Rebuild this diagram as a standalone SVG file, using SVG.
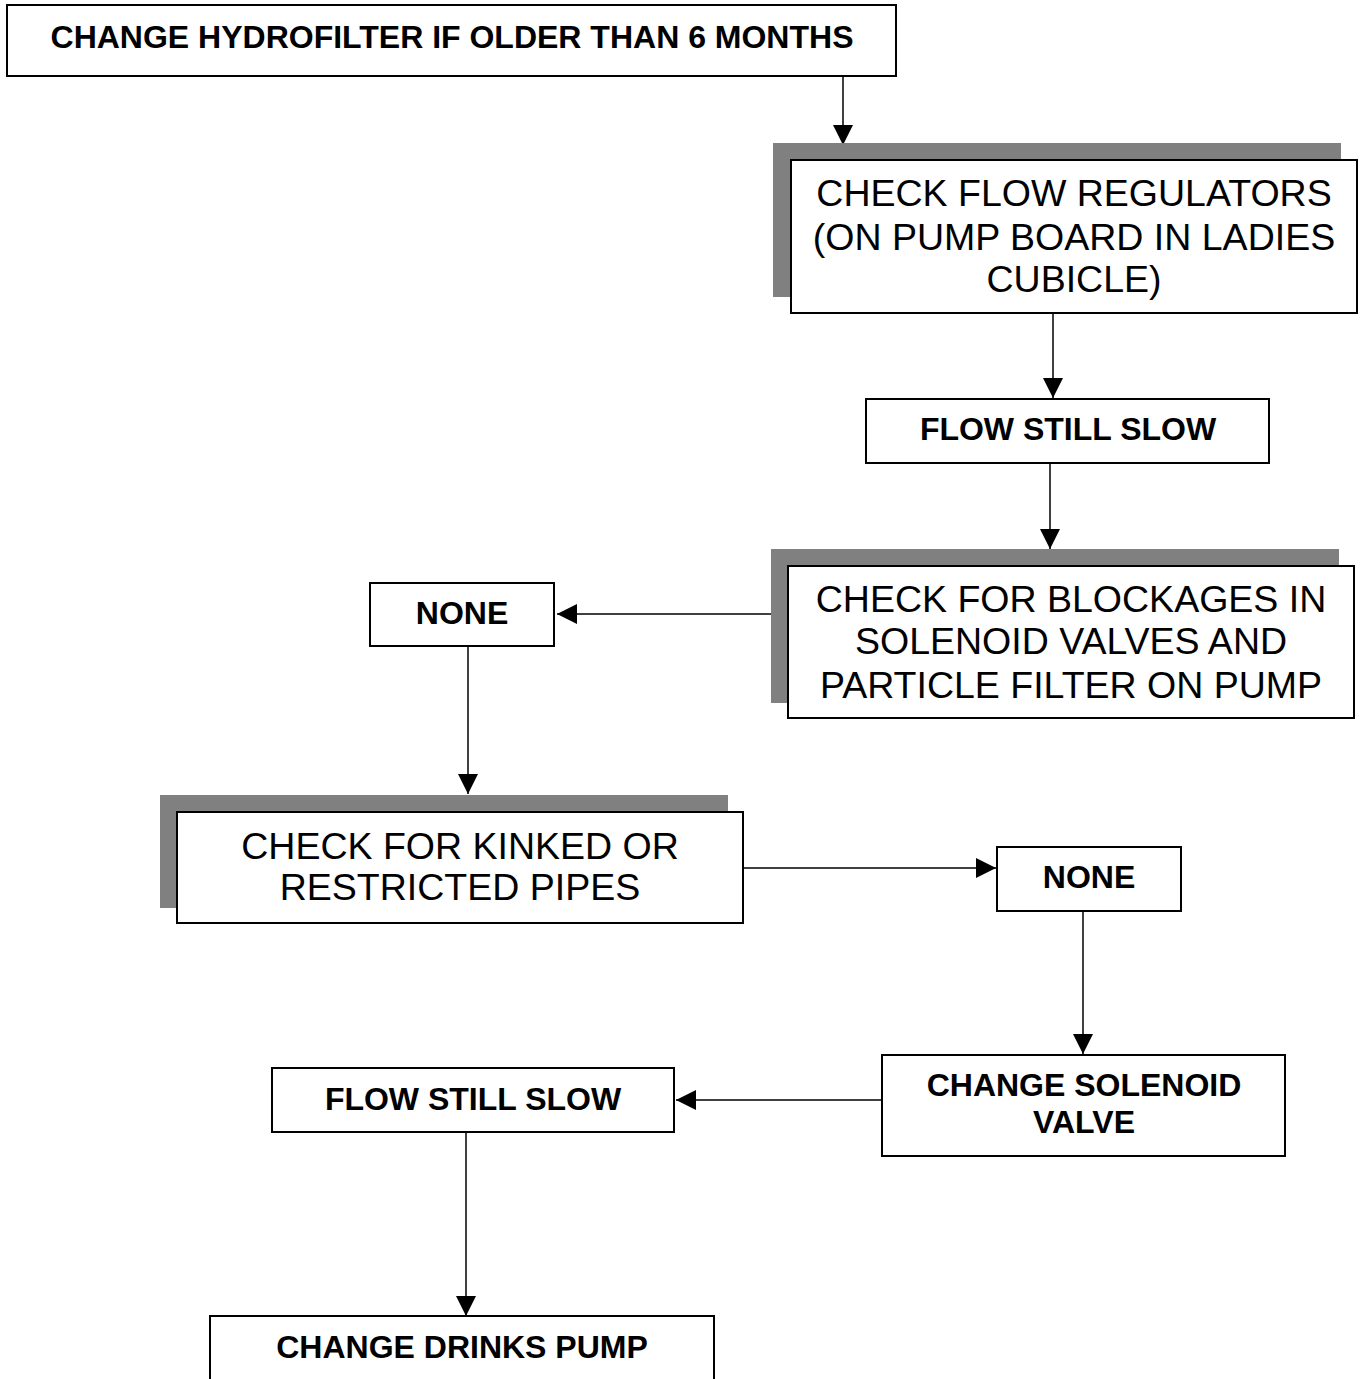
<svg xmlns="http://www.w3.org/2000/svg" width="1367" height="1379" viewBox="0 0 1367 1379">
<style>
.box{fill:#fff;stroke:#000;stroke-width:2}
.sh{fill:#808080}
.b{font-family:"Liberation Sans",Arial,sans-serif;font-weight:bold;font-size:32px;text-anchor:middle;fill:#000}
.r{font-family:"Liberation Sans",Arial,sans-serif;font-size:37.5px;text-anchor:middle;fill:#000}
.c{stroke:#000;stroke-width:1.5;fill:none;marker-end:url(#ah)}
</style>
<defs>
<marker id="ah" markerUnits="userSpaceOnUse" markerWidth="22" markerHeight="22" refX="20" refY="10" orient="auto">
<path d="M0,0 L20,10 L0,20 Z" fill="#000"/>
</marker>
</defs>
<rect width="1367" height="1379" fill="#fff"/>
<g id="connectors">
<line class="c" x1="843" y1="76" x2="843" y2="145"/>
<line class="c" x1="1053" y1="313" x2="1053" y2="398"/>
<line class="c" x1="1050" y1="463" x2="1050" y2="549"/>
<line class="c" x1="771" y1="614" x2="557" y2="614"/>
<line class="c" x1="468" y1="646" x2="468" y2="794"/>
<line class="c" x1="743" y1="868" x2="996" y2="868"/>
<line class="c" x1="1083" y1="911" x2="1083" y2="1054"/>
<line class="c" x1="882" y1="1100" x2="676" y2="1100"/>
<line class="c" x1="466" y1="1132" x2="466" y2="1316"/>
</g>
<g id="n1">
<rect class="box" x="7" y="5" width="889" height="71"/>
<text class="b" x="452" y="48">CHANGE HYDROFILTER IF OLDER THAN 6 MONTHS</text>
</g>
<g id="n2">
<rect class="sh" x="773" y="143" width="568" height="154"/>
<rect class="box" x="791" y="160" width="566" height="153"/>
<text class="r" x="1074" y="206">CHECK FLOW REGULATORS</text>
<text class="r" x="1074" y="250">(ON PUMP BOARD IN LADIES</text>
<text class="r" x="1074" y="292">CUBICLE)</text>
</g>
<g id="n3">
<rect class="box" x="866" y="399" width="403" height="64"/>
<text class="b" x="1068" y="440">FLOW STILL SLOW</text>
</g>
<g id="n4">
<rect class="sh" x="771" y="549" width="568" height="154"/>
<rect class="box" x="788" y="566" width="566" height="152"/>
<text class="r" x="1071" y="612">CHECK FOR BLOCKAGES IN</text>
<text class="r" x="1071" y="654">SOLENOID VALVES AND</text>
<text class="r" x="1071" y="698">PARTICLE FILTER ON PUMP</text>
</g>
<g id="n5">
<rect class="box" x="370" y="583" width="184" height="63"/>
<text class="b" x="462" y="624">NONE</text>
</g>
<g id="n6">
<rect class="sh" x="160" y="795" width="568" height="113"/>
<rect class="box" x="177" y="812" width="566" height="111"/>
<text class="r" x="460" y="859">CHECK FOR KINKED OR</text>
<text class="r" x="460" y="900">RESTRICTED PIPES</text>
</g>
<g id="n7">
<rect class="box" x="997" y="847" width="184" height="64"/>
<text class="b" x="1089" y="888">NONE</text>
</g>
<g id="n8">
<rect class="box" x="882" y="1055" width="403" height="101"/>
<text class="b" x="1084" y="1096">CHANGE SOLENOID</text>
<text class="b" x="1084" y="1133">VALVE</text>
</g>
<g id="n9">
<rect class="box" x="272" y="1068" width="402" height="64"/>
<text class="b" x="473" y="1110">FLOW STILL SLOW</text>
</g>
<g id="n10">
<rect class="box" x="210" y="1316" width="504" height="80"/>
<text class="b" x="462" y="1358">CHANGE DRINKS PUMP</text>
</g>
</svg>
